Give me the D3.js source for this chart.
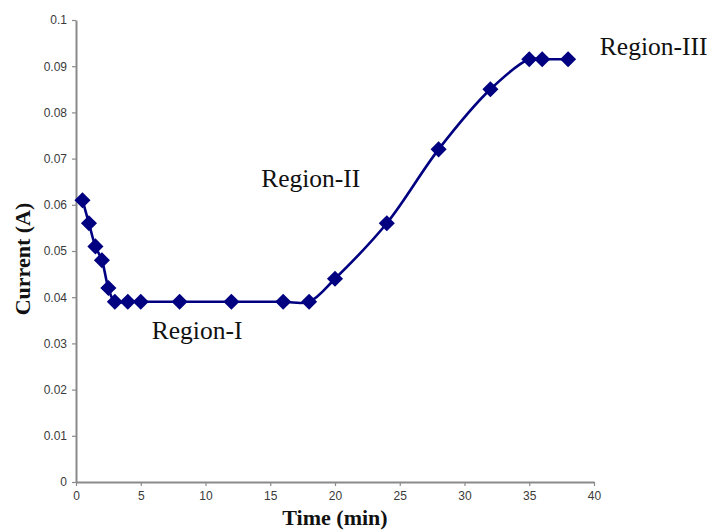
<!DOCTYPE html>
<html>
<head>
<meta charset="utf-8">
<script src="https://cdn.jsdelivr.net/npm/d3@7"></script>
<style>
  html, body { margin: 0; padding: 0; background: #fff; }
  svg { display: block; }
</style>
</head>
<body>
<svg id="chart" width="715" height="532"></svg>
<script>
// ---- data ----
const timeMin = [0.5, 1, 1.5, 2, 2.5, 3, 4, 5, 8, 12, 16, 18, 20, 24, 28, 32, 35, 36, 38];
const currentA = [0.061, 0.056, 0.051, 0.048, 0.042, 0.039, 0.039, 0.039, 0.039, 0.039, 0.039, 0.039, 0.044, 0.056, 0.072, 0.085, 0.0915, 0.0915, 0.0915];
const xTicks = [0, 5, 10, 15, 20, 25, 30, 35, 40];
const yTicks = [0, 0.01, 0.02, 0.03, 0.04, 0.05, 0.06, 0.07, 0.08, 0.09, 0.1];
const yTickLabels = ["0", "0.01", "0.02", "0.03", "0.04", "0.05", "0.06", "0.07", "0.08", "0.09", "0.1"];
const regionLabels = ["Region-I", "Region-II", "Region-III"];
const regionAnchors = [[5.85, 0.0310], [14.3, 0.0638], [40.45, 0.0925]]; // data-space anchor (left, baseline)

const svg = d3.select("#chart");
const x = d3.scaleLinear().domain([0, 40]).range([76, 594]);
const y = d3.scaleLinear().domain([0, 0.1]).range([482, 20]);

const axisColor = "#8a8a8a";
const labelColor = "#3a3a3a";

// y axis
const yAxis = svg.append("g").attr("transform", `translate(${x(0)},0)`)
  .call(d3.axisLeft(y).tickValues(yTicks).tickSize(4).tickSizeOuter(0).tickPadding(5)
    .tickFormat((d, i) => yTickLabels[i]));
// x axis
const xAxis = svg.append("g").attr("transform", `translate(0,${y(0)})`)
  .call(d3.axisBottom(x).tickValues(xTicks).tickSize(4).tickSizeOuter(0).tickPadding(5)
    .tickFormat(d3.format("d")));

[yAxis, xAxis].forEach(g => {
  g.select(".domain").attr("stroke", axisColor).attr("stroke-width", 2);
  g.selectAll(".tick line").attr("stroke", axisColor).attr("stroke-width", 1.2);
  g.selectAll(".tick text").attr("fill", labelColor)
    .style("font-family", "'Liberation Sans', Arial, sans-serif").style("font-size", "12px");
});

// line
const pts = timeMin.map((t, i) => [t, currentA[i]]);
const line = d3.line().x(d => x(d[0])).y(d => y(d[1])).curve(d3.curveCatmullRom.alpha(0.5));
svg.append("path").datum(pts).attr("d", line)
  .attr("fill", "none").attr("stroke", "#000080").attr("stroke-width", 2.6);

// markers
const diamond = d3.symbol().type(d3.symbolDiamond2).size(165);
svg.append("g").selectAll("path").data(pts).join("path")
  .attr("transform", d => `translate(${x(d[0])},${y(d[1])})`)
  .attr("d", diamond).attr("fill", "#000080");

// region labels
svg.append("g").selectAll("text").data(regionLabels).join("text")
  .attr("x", (d, i) => x(regionAnchors[i][0]))
  .attr("y", (d, i) => y(regionAnchors[i][1]))
  .text(d => d)
  .style("font-family", "'Liberation Serif', 'Times New Roman', serif")
  .style("font-size", "25.5px").attr("fill", "#111");

// axis titles
svg.append("text").attr("x", 335).attr("y", 525).attr("text-anchor", "middle")
  .text("Time (min)")
  .style("font-family", "'Liberation Serif', 'Times New Roman', serif")
  .style("font-weight", "bold").style("font-size", "22px").attr("fill", "#111");
svg.append("text").attr("transform", "translate(30,259) rotate(-90)").attr("text-anchor", "middle")
  .text("Current (A)")
  .style("font-family", "'Liberation Serif', 'Times New Roman', serif")
  .style("font-weight", "bold").style("font-size", "22px").attr("fill", "#111");
</script>
</body>
</html>
